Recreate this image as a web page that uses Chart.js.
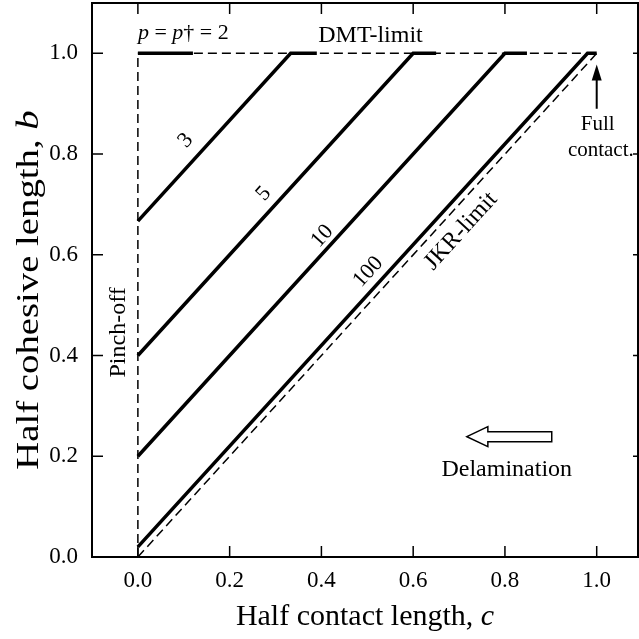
<!DOCTYPE html>
<html lang="en">
<head>
    <meta charset="UTF-8">
    <title>Half cohesive length vs half contact length</title>
    <script src="https://cdn.jsdelivr.net/npm/chart.js"></script>
    <style>
        html, body { margin: 0; padding: 0; background: #fff; }
        #wrap { width: 639px; height: 639px; }
    </style>
</head>
<body>
    <div id="wrap"><canvas id="myChart" width="639" height="639"></canvas></div>

    <script>
        // axis ticks
        const xTicks = [0.0, 0.2, 0.4, 0.6, 0.8, 1.0];
        const yTicks = [0.0, 0.2, 0.4, 0.6, 0.8, 1.0];

        // solid curves, one per p value (c = half contact, b = half cohesive)
        const pLabels = ['2', '3', '5', '10', '100'];
        const curveC = [
            [0, 0.12],
            [0, 0.333, 0.39],
            [0, 0.6, 0.65],
            [0, 0.8, 0.848],
            [0, 0.98, 1.0]
        ];
        const curveB = [
            [1, 1],
            [0.667, 1, 1],
            [0.4, 1, 1],
            [0.2, 1, 1],
            [0.02, 1, 1]
        ];

        // dashed limits
        const dmtC = [0, 1.0];
        const dmtB = [1, 1];
        const pinchC = [0, 0];
        const pinchB = [0, 1];
        const jkrC = [0, 1];
        const jkrB = [0, 1];

        const serif = '"Liberation Serif", "DejaVu Serif", serif';

        function toPoints(cs, bs) {
            return cs.map((c, i) => ({ x: c, y: bs[i] }));
        }

        const datasets = [];
        curveC.forEach((cs, i) => {
            datasets.push({
                label: 'p = ' + pLabels[i],
                data: toPoints(cs, curveB[i]),
                borderColor: '#000',
                borderWidth: 3.5,
                borderCapStyle: 'butt',
                showLine: true,
                pointRadius: 0
            });
        });
        [['DMT-limit', dmtC, dmtB], ['Pinch-off', pinchC, pinchB], ['JKR-limit', jkrC, jkrB]].forEach(d => {
            datasets.push({
                label: d[0],
                data: toPoints(d[1], d[2]),
                borderColor: '#000',
                borderWidth: 1.5,
                borderDash: [9, 5],
                showLine: true,
                pointRadius: 0
            });
        });

        // mixed roman / italic text
        function drawRich(ctx, parts, x, y, size, align) {
            const fontOf = it => (it ? 'italic ' : '') + size + 'px ' + serif;
            let total = 0;
            parts.forEach(p => { ctx.font = fontOf(p[1]); total += ctx.measureText(p[0]).width; });
            let cx = align === 'left' ? x : x - total / 2;
            ctx.textAlign = 'left';
            ctx.textBaseline = 'middle';
            parts.forEach(p => {
                ctx.font = fontOf(p[1]);
                ctx.fillText(p[0], cx, y);
                cx += ctx.measureText(p[0]).width;
            });
        }

        const decor = {
            id: 'decor',
            afterDraw(chart) {
                const ctx = chart.ctx;
                const xs = chart.scales.x, ys = chart.scales.y;
                const a = chart.chartArea;
                const X = v => xs.getPixelForValue(v);
                const Y = v => ys.getPixelForValue(v);
                ctx.save();
                ctx.strokeStyle = '#000';
                ctx.fillStyle = '#000';

                // frame and inward ticks
                ctx.lineWidth = 2;
                ctx.strokeRect(a.left, a.top, a.right - a.left, a.bottom - a.top);
                ctx.lineWidth = 1.5;
                ctx.beginPath();
                xTicks.forEach(v => {
                    ctx.moveTo(X(v), a.bottom); ctx.lineTo(X(v), a.bottom - 11);
                    ctx.moveTo(X(v), a.top); ctx.lineTo(X(v), a.top + 11);
                });
                yTicks.forEach(v => {
                    ctx.moveTo(a.left, Y(v)); ctx.lineTo(a.left + 11, Y(v));
                    ctx.moveTo(a.right, Y(v)); ctx.lineTo(a.right - 5, Y(v));
                });
                ctx.stroke();

                // labels inside the plot
                drawRich(ctx, [['p', true], [' = ', false], ['p', true], ['† = 2', false]], X(0), Y(1.04), 22, 'left');
                drawRich(ctx, [['DMT-limit', false]], X(0.507), Y(1.036), 24, 'center');

                const ang = -Math.atan2(Y(0) - Y(1), X(1) - X(0));
                [['3', 0.104, 0.827], ['5', 0.274, 0.721], ['10', 0.402, 0.637], ['100', 0.502, 0.566],
                 ['JKR-limit', 0.704, 0.647]].forEach(t => {
                    ctx.save();
                    ctx.translate(X(t[1]), Y(t[2]));
                    ctx.rotate(ang);
                    drawRich(ctx, [[t[0], false]], 0, 0, t[0] === 'JKR-limit' ? 24 : 22, 'center');
                    ctx.restore();
                });

                ctx.save();
                ctx.translate(X(-0.041), Y(0.446));
                ctx.rotate(-Math.PI / 2);
                drawRich(ctx, [['Pinch-off', false]], 0, 0, 24, 'center');
                ctx.restore();

                drawRich(ctx, [['Full', false]], X(1.002), Y(0.859), 21, 'center');
                drawRich(ctx, [['contact.', false]], X(1.009), Y(0.807), 21, 'center');

                // "full contact" arrow
                const ax = X(1.0), ay0 = Y(0.89), ay1 = Y(0.978);
                ctx.lineWidth = 2;
                ctx.beginPath(); ctx.moveTo(ax, ay0); ctx.lineTo(ax, ay1 + 12); ctx.stroke();
                ctx.beginPath();
                ctx.moveTo(ax, ay1); ctx.lineTo(ax - 5, ay1 + 16); ctx.lineTo(ax + 5, ay1 + 16);
                ctx.closePath(); ctx.fill();

                // hollow delamination arrow
                const lx = X(0.717), rx = X(0.902), my = Y(0.239);
                ctx.lineWidth = 1.5;
                ctx.fillStyle = '#fff';
                ctx.beginPath();
                ctx.moveTo(lx, my);
                ctx.lineTo(lx + 21, my - 10);
                ctx.lineTo(lx + 21, my - 5);
                ctx.lineTo(rx, my - 5);
                ctx.lineTo(rx, my + 5);
                ctx.lineTo(lx + 21, my + 5);
                ctx.lineTo(lx + 21, my + 10);
                ctx.closePath();
                ctx.fill(); ctx.stroke();
                ctx.fillStyle = '#000';
                drawRich(ctx, [['Delamination', false]], X(0.804), Y(0.173), 24, 'center');

                // axis titles
                drawRich(ctx, [['Half contact length, ', false], ['c', true]], (a.left + a.right) / 2, 617, 30, 'center');
                ctx.save();
                ctx.translate(30, 290);
                ctx.rotate(-Math.PI / 2);
                ctx.scale(1.25, 1);
                drawRich(ctx, [['Half cohesive length, ', false], ['b', true]], 0, 0, 31, 'center');
                ctx.restore();

                ctx.restore();
            }
        };

        const tickFont = { family: serif, size: 23 };

        const config = {
            type: 'scatter',
            data: { datasets: datasets },
            options: {
                responsive: false,
                animation: false,
                layout: { padding: { top: 3, right: 1, left: 0, bottom: 0 } },
                plugins: {
                    legend: { display: false },
                    tooltip: { enabled: false }
                },
                scales: {
                    x: {
                        type: 'linear',
                        min: -0.1,
                        max: 1.09,
                        grid: { display: false, drawTicks: false },
                        border: { display: false },
                        afterBuildTicks: s => { s.ticks = xTicks.map(v => ({ value: v })); },
                        afterFit: s => { s.height = 82; s.paddingLeft = 0; s.paddingRight = 0; },
                        ticks: {
                            color: '#000',
                            font: tickFont,
                            padding: 10,
                            maxRotation: 0,
                            callback: v => v.toFixed(1)
                        }
                    },
                    y: {
                        type: 'linear',
                        min: 0,
                        max: 1.1,
                        grid: { display: false, drawTicks: false },
                        border: { display: false },
                        afterBuildTicks: s => { s.ticks = yTicks.map(v => ({ value: v })); },
                        afterFit: s => { s.width = 92; s.paddingTop = 0; s.paddingBottom = 0; },
                        ticks: {
                            color: '#000',
                            font: tickFont,
                            padding: 14,
                            callback: v => v.toFixed(1)
                        }
                    }
                }
            },
            plugins: [decor]
        };

        new Chart(document.getElementById('myChart').getContext('2d'), config);
    </script>
</body>
</html>
